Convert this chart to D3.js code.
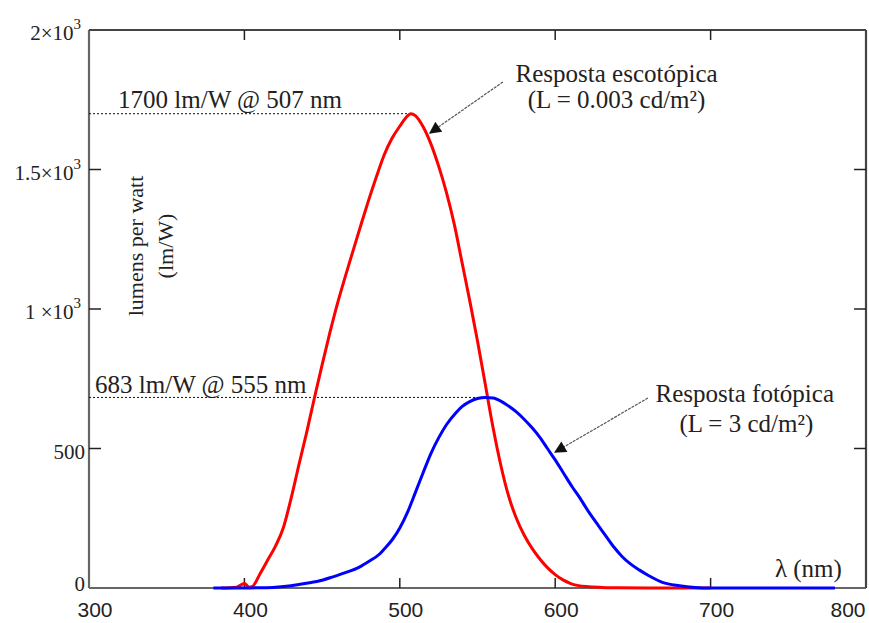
<!DOCTYPE html>
<html>
<head>
<meta charset="utf-8">
<script src="https://cdn.jsdelivr.net/npm/d3@7/dist/d3.min.js"></script>
<style>
  body { margin: 0; background: #fff; }
  .serif { font-family: "Liberation Serif", "DejaVu Serif", serif; fill: #222; }
  .tick-x { font-family: "Liberation Sans Narrow", "Liberation Sans", Arial, sans-serif; fill: #222; }
</style>
</head>
<body>
<div id="chart"></div>
<script>
// Scotopic response (red), lm/W by wavelength in nm
const scotopicNm = [385, 395, 400, 403, 405, 410, 415, 420, 425, 430, 435, 440, 445, 450, 455, 460, 465, 470, 475, 480,
  485, 490, 495, 500, 505, 507, 510, 515, 520, 525, 530, 535, 540, 545, 550, 555, 560, 565, 570, 575,
  580, 585, 590, 595, 600, 605, 610, 620, 630, 640, 660, 700];
const scotopicLm = [0, 3, 16, 3, 5, 50, 100, 150, 215, 320, 440, 556, 680, 800, 915, 1022, 1118, 1210, 1302, 1391,
  1475, 1553, 1612, 1655, 1692, 1700, 1693, 1653, 1592, 1512, 1418, 1305, 1168, 1030, 885, 730, 575, 440, 330, 250,
  190, 143, 105, 73, 48, 29, 16, 5, 2, 1, 0, 0];

// Photopic response (blue)
const photopicNm = [380, 400, 410, 420, 430, 440, 450, 457, 465, 474, 480, 487, 490, 495, 500, 505, 510, 515, 520, 525,
  530, 536, 540, 545, 550, 555, 560, 565, 570, 575, 580, 585, 590, 595, 600, 605, 611, 615, 622, 628,
  633, 638, 643, 648, 654, 660, 669, 680, 690, 700, 780];
const photopicLm = [0, 0, 1, 3, 8, 17, 28, 40, 55, 75, 95, 122, 140, 172, 215, 272, 342, 413, 482, 538,
  585, 627, 650, 668, 679, 683, 681, 670, 652, 631, 605, 575, 541, 500, 459, 415, 362, 330, 269, 222,
  183, 145, 113, 88, 65, 45, 20, 8, 2, 0, 0];

const xTicks = [300, 400, 500, 600, 700, 800];
const yTicks = [0, 500, 1000, 1500, 2000];
const yTickText = ["0", "500", "1 \u00d710", "1.5\u00d710", "2\u00d710"];
const yTickExp = ["", "", "3", "3", "3"];

const W = 869, H = 623;
const margin = { left: 89, right: 866, top: 30, bottom: 588 };

const svg = d3.select("#chart").append("svg")
  .attr("width", W).attr("height", H);

const x = d3.scaleLinear().domain([300, 800]).range([margin.left, margin.right]);
const y = d3.scaleLinear().domain([0, 2000]).range([margin.bottom, margin.top]);

svg.append("defs").append("marker")
  .attr("id", "arrow")
  .attr("viewBox", "0 0 10 10")
  .attr("refX", 9).attr("refY", 5)
  .attr("markerWidth", 17).attr("markerHeight", 12)
  .attr("markerUnits", "userSpaceOnUse")
  .attr("orient", "auto")
  .append("path").attr("d", "M0,0 L10,5 L0,10 Z").attr("fill", "#111");

// frame
const frame = svg.append("g").attr("stroke", "#666").attr("stroke-width", 2.2).attr("fill", "none");
frame.append("line").attr("x1", margin.left).attr("x2", margin.left).attr("y1", margin.top).attr("y2", margin.bottom);
frame.append("line").attr("x1", margin.left).attr("x2", margin.right).attr("y1", margin.bottom).attr("y2", margin.bottom);
frame.append("line").attr("x1", margin.left).attr("x2", margin.right).attr("y1", margin.top).attr("y2", margin.top).attr("stroke", "#444");
frame.append("line").attr("x1", margin.right).attr("x2", margin.right).attr("y1", margin.top).attr("y2", margin.bottom).attr("stroke", "#444");

// inward ticks
const innerX = xTicks.slice(1, -1), innerY = yTicks.slice(1, -1);
const ticks = svg.append("g").attr("stroke", "#222").attr("stroke-width", 1.5);
ticks.selectAll(".tb").data(innerX).enter().append("line")
  .attr("x1", d => x(d)).attr("x2", d => x(d)).attr("y1", margin.bottom).attr("y2", margin.bottom - 10);
ticks.selectAll(".tt").data(innerX).enter().append("line")
  .attr("x1", d => x(d)).attr("x2", d => x(d)).attr("y1", margin.top).attr("y2", margin.top + 10);
ticks.selectAll(".tl").data(innerY).enter().append("line")
  .attr("x1", margin.left).attr("x2", margin.left + 12).attr("y1", d => y(d)).attr("y2", d => y(d));
ticks.selectAll(".tr").data(innerY).enter().append("line")
  .attr("x1", margin.right).attr("x2", margin.right - 12).attr("y1", d => y(d)).attr("y2", d => y(d));

// x tick labels
svg.selectAll(".xl").data(xTicks).enter().append("text")
  .attr("class", "tick-x")
  .attr("x", d => Math.min(x(d) + 6, W - 21))
  .attr("y", 617)
  .attr("text-anchor", "middle")
  .attr("font-size", 21)
  .text(d => d);

// y tick labels
const yl = svg.selectAll(".yl").data(yTicks).enter().append("text")
  .attr("class", "serif")
  .attr("x", (d, i) => yTickExp[i] ? 81 : 85)
  .attr("y", d => y(d) + (d === 0 ? 3 : 10))
  .attr("text-anchor", "end")
  .attr("font-size", 21);
yl.append("tspan").text((d, i) => yTickText[i]);
yl.append("tspan").attr("font-size", 15).attr("dy", -11).text((d, i) => yTickExp[i]);

// y axis title
svg.append("text").attr("class", "serif")
  .attr("transform", "translate(143,246) rotate(-90)")
  .attr("text-anchor", "middle").attr("font-size", 22)
  .text("lumens per watt");
svg.append("text").attr("class", "serif")
  .attr("transform", "translate(173,246) rotate(-90)")
  .attr("text-anchor", "middle").attr("font-size", 22)
  .text("(lm/W)");

// peak reference lines
const peaks = [[507, 1700], [555, 683]];
svg.selectAll(".peak").data(peaks).enter().append("line")
  .attr("x1", margin.left).attr("x2", d => x(d[0]))
  .attr("y1", d => y(d[1])).attr("y2", d => y(d[1]))
  .attr("stroke", "#111").attr("stroke-width", 1).attr("stroke-dasharray", "2,2");

// curves
const line = d3.line().x(d => x(d[0])).y(d => y(d[1])).curve(d3.curveMonotoneX);
svg.append("path")
  .datum(scotopicNm.map((d, i) => [d, scotopicLm[i]]))
  .attr("d", line).attr("fill", "none").attr("stroke", "#ff0000").attr("stroke-width", 3);
svg.append("path")
  .datum(photopicNm.map((d, i) => [d, photopicLm[i]]))
  .attr("d", line).attr("fill", "none").attr("stroke", "#0000ff").attr("stroke-width", 3);

// annotations (data units)
const notes = [
  { t: "1700 lm/W @ 507 nm", nm: 318.7, v: 1720, a: "start" },
  { t: "683 lm/W @ 555 nm", nm: 303.9, v: 699, a: "start" },
  { t: "Resposta escotópica", nm: 639.5, v: 1814, a: "middle" },
  { t: "(L = 0.003 cd/m²)", nm: 639.5, v: 1720, a: "middle" },
  { t: "Resposta fotópica", nm: 722, v: 667, a: "middle" },
  { t: "(L = 3 cd/m²)", nm: 723, v: 559, a: "middle" },
  { t: "λ (nm)", nm: 741.4, v: 39, a: "start" }
];
svg.selectAll(".note").data(notes).enter().append("text")
  .attr("class", "serif")
  .attr("x", d => x(d.nm)).attr("y", d => y(d.v))
  .attr("text-anchor", d => d.a)
  .attr("font-size", 25)
  .text(d => d.t);

const arrows = [[566.4, 1814, 519.4, 1631], [659.7, 681, 599.9, 487]];
svg.selectAll(".arr").data(arrows).enter().append("line")
  .attr("x1", d => x(d[0])).attr("y1", d => y(d[1]))
  .attr("x2", d => x(d[2])).attr("y2", d => y(d[3]))
  .attr("stroke", "#555").attr("stroke-width", 1.2).attr("stroke-dasharray", "3,1")
  .attr("marker-end", "url(#arrow)");
</script>
</body>
</html>
